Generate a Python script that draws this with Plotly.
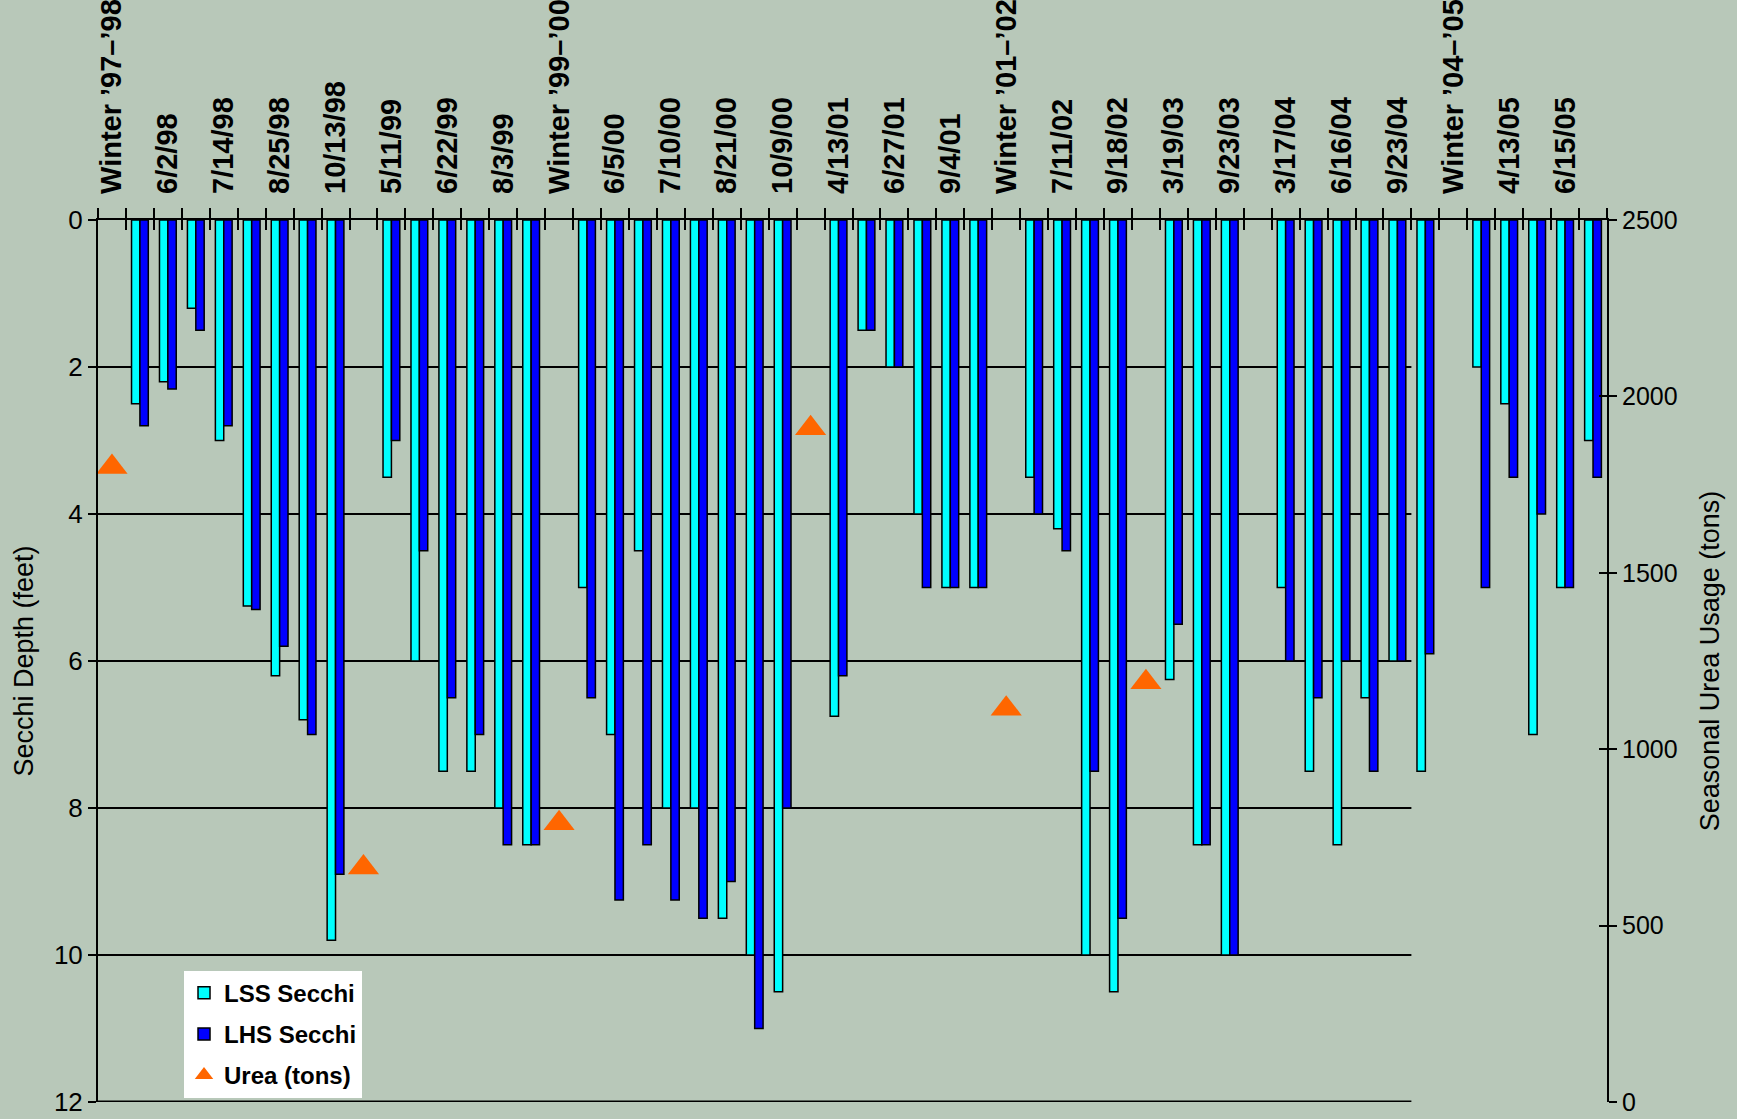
import plotly.graph_objects as go

# ---------------- data ----------------
labels = [
    "Winter ’97–’98", "", "6/2/98", "", "7/14/98", "", "8/25/98", "", "10/13/98", "",
    "5/11/99", "", "6/22/99", "", "8/3/99", "", "Winter ’99–’00", "", "6/5/00", "",
    "7/10/00", "", "8/21/00", "", "10/9/00", "", "4/13/01", "", "6/27/01", "",
    "9/4/01", "", "Winter ’01–’02", "", "7/11/02", "", "9/18/02", "", "3/19/03", "",
    "9/23/03", "", "3/17/04", "", "6/16/04", "", "9/23/04", "", "Winter ’04–’05", "",
    "4/13/05", "", "6/15/05", "",
]

lss_secchi = [
    None, 2.5, 2.2, 1.2, 3.0, 5.25, 6.2, 6.8, 9.8, None,
    3.5, 6.0, 7.5, 7.5, 8.0, 8.5, None, 5.0, 7.0, 4.5,
    8.0, 8.0, 9.5, 10.0, 10.5, None, 6.75, 1.5, 2.0, 4.0,
    5.0, 5.0, None, 3.5, 4.2, 10.0, 10.5, None, 6.25, 8.5,
    10.0, None, 5.0, 7.5, 8.5, 6.5, 6.0, 7.5, None, 2.0,
    2.5, 7.0, 5.0, 3.0,
]

lhs_secchi = [
    None, 2.8, 2.3, 1.5, 2.8, 5.3, 5.8, 7.0, 8.9, None,
    3.0, 4.5, 6.5, 7.0, 8.5, 8.5, None, 6.5, 9.25, 8.5,
    9.25, 9.5, 9.0, 11.0, 8.0, None, 6.2, 1.5, 2.0, 5.0,
    5.0, 5.0, None, 4.0, 4.5, 7.5, 9.5, None, 5.5, 8.5,
    10.0, None, 6.0, 6.5, 6.0, 7.5, 6.0, 5.9, None, 5.0,
    3.5, 4.0, 5.0, 3.5,
]

urea_tons = [None] * len(labels)
urea_tons[0] = 1800
urea_tons[9] = 665
urea_tons[16] = 790
urea_tons[25] = 1910
urea_tons[32] = 1115
urea_tons[37] = 1190

depth_ticks = [0, 2, 4, 6, 8, 10, 12]
urea_ticks = [0, 500, 1000, 1500, 2000, 2500]

assert len(lss_secchi) == len(labels) == len(lhs_secchi)

# ---------------- derived ----------------
pos = list(range(len(labels)))
label_pos = [p for p, t in zip(pos, labels) if t]
label_txt = [t for t in labels if t]
boundaries = [p - 0.5 for p in pos] + [pos[-1] + 0.5]
grid_end = labels.index("9/23/04") + 0.5

BG = "#B8C8B9"
FONT = "Liberation Sans"

fig = go.Figure()

fig.add_trace(go.Bar(
    x=pos, y=lss_secchi, name="LSS Secchi",
    marker=dict(color="#00FFFF", line=dict(color="black", width=1.5)),
    legendgroup="a",
))
fig.add_trace(go.Bar(
    x=pos, y=lhs_secchi, name="LHS Secchi",
    marker=dict(color="#0000FF", line=dict(color="black", width=1.5)),
    legendgroup="b",
))
fig.add_trace(go.Scatter(
    x=pos, y=urea_tons, name="Urea (tons)", mode="markers",
    marker=dict(symbol="triangle-up", size=27, color="#FF6600"),
    yaxis="y2", legendgroup="c",
))
# helper invisible traces so overlay axes are drawn
for xa, ya in (("x2", "y"), ("x3", "y"), ("x", "y3")):
    fig.add_trace(go.Scatter(x=[0], y=[0], xaxis=xa, yaxis=ya, mode="markers",
                             marker=dict(opacity=0), showlegend=False, hoverinfo="skip"))

shapes = []
for t in depth_ticks[1:]:
    shapes.append(dict(type="line", xref="x", yref="y", x0=-0.5, x1=grid_end, y0=t, y1=t,
                       line=dict(color="black", width=3 if t == depth_ticks[-1] else 1.8),
                       layer="below"))

xr = [-0.5, len(labels) - 0.5]
fig.update_layout(
    width=1737, height=1119,
    margin=dict(l=98, r=130, t=220, b=17),
    paper_bgcolor=BG, plot_bgcolor=BG,
    barmode="group", bargap=0.4, bargroupgap=0,
    font=dict(family=FONT, color="black"),
    showlegend=True,
    legend=dict(x=0.057, y=0.149, xanchor="left", yanchor="top", bgcolor="white",
                borderwidth=0,
                font=dict(family=FONT, size=24, color="black", weight="bold"),
                tracegroupgap=7, traceorder="grouped"),
    shapes=shapes,
    xaxis=dict(range=xr, side="top", showline=True, linecolor="black", linewidth=2,
               tickmode="array", tickvals=boundaries, ticks="outside", ticklen=10,
               tickwidth=1.5, tickcolor="black", showticklabels=False,
               showgrid=False, zeroline=False, automargin=False),
    xaxis2=dict(range=xr, overlaying="x", side="top", matches="x", showline=False,
                tickmode="array", tickvals=label_pos, ticktext=label_txt, tickangle=-90,
                ticks="", ticklabelstandoff=25, showgrid=False, zeroline=False,
                tickfont=dict(family=FONT, size=29, color="black", weight="bold"),
                automargin=False),
    xaxis3=dict(range=xr, overlaying="x", side="top", matches="x", showline=False,
                tickmode="array", tickvals=boundaries, ticks="inside", ticklen=10,
                tickwidth=1.5, tickcolor="black", showticklabels=False,
                showgrid=False, zeroline=False, automargin=False),
    yaxis=dict(range=[12, 0], tickmode="array", tickvals=depth_ticks, ticks="outside",
               ticklen=8, tickwidth=1.5, tickcolor="black", showline=True,
               linecolor="black", linewidth=2, showgrid=False, zeroline=False,
               tickfont=dict(family=FONT, size=26, color="black"),
               title=dict(text="Secchi Depth (feet)", standoff=12,
                          font=dict(family=FONT, size=27, color="black")),
               automargin=False),
    yaxis2=dict(range=[0, 2500], overlaying="y", side="right", tickmode="array",
                tickvals=urea_ticks, ticks="outside", ticklen=8, tickwidth=1.5,
                tickcolor="black", showline=True, linecolor="black", linewidth=2,
                showgrid=False, zeroline=False,
                tickfont=dict(family=FONT, size=25, color="black"),
                title=dict(text="Seasonal Urea Usage (tons)", standoff=23,
                           font=dict(family=FONT, size=27, color="black")),
                automargin=False),
    yaxis3=dict(range=[0, 2500], overlaying="y", side="right", tickmode="array",
                tickvals=urea_ticks, ticks="inside", ticklen=8, tickwidth=1.5,
                tickcolor="black", showline=False, showticklabels=False,
                showgrid=False, zeroline=False, automargin=False),
)

fig.write_html(
    "out.html",
    config={"displayModeBar": False},
    post_script="document.body.style.margin='0';document.body.style.background='%s';" % BG,
)
